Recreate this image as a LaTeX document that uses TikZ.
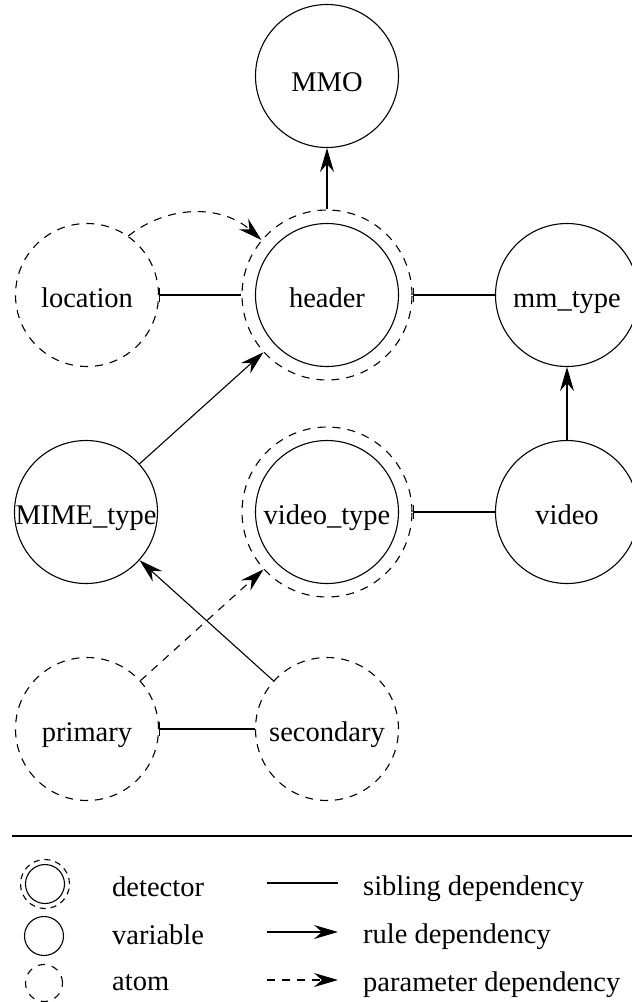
\documentclass[tikz,border=0pt]{standalone}
\usepackage{fontspec}
\setmainfont{Liberation Serif}
\usetikzlibrary{arrows.meta}

\tikzset{
  lw/.style={line width=1.1pt},
  dsh/.style={dash pattern=on 8pt off 7pt},
  varnode/.style={circle, draw, lw, inner sep=0pt, minimum size=143pt,
    text height=24pt, text depth=0pt, font=\fontsize{28.5}{34}\selectfont},
  atomnode/.style={varnode, dsh},
  detin/.style={varnode},
  detout/.style={circle, draw, lw, dsh, inner sep=0pt, minimum size=170pt},
  sibling/.style={lw, {Bar[width=14pt]}-},
  ruledep/.style={lw, -{Stealth[length=24pt, width=14pt, inset=8pt]}},
  paramdep/.style={ruledep, dsh},
  legtext/.style={anchor=base west, inner sep=0pt, font=\fontsize{28.5}{34}\selectfont},
}

\begin{document}
\begin{tikzpicture}[x=1pt, y=-1pt]
\useasboundingbox (0,0) rectangle (632,1002);

% ---- dependency graph ----
\node[varnode, text height=30pt] (MMO) at (327,76) {MMO};

\node[atomnode] (location) at (87,295) {location};
\node[detin] (header-in) at (327,295) {header};
\node[detout] (header) at (327,295) {};
\node[varnode] (mmtype) at (567,295) {mm\_type};

\node[varnode] (MIME) at (86,512) {MIME\_type};
\node[detin] (vtype-in) at (327,512) {video\_type};
\node[detout] (vtype) at (327,512) {};
\node[varnode] (video) at (567,512) {video};

\node[atomnode] (primary) at (87,729) {primary};
\node[atomnode] (secondary) at (327,729) {secondary};

% sibling dependencies
\draw[sibling] (location) -- (header);
\draw[sibling] (header) -- (mmtype);
\draw[sibling] (vtype) -- (video);
\draw[sibling] (primary) -- (secondary);

% rule dependencies
\draw[ruledep] (header) -- (MMO);
\draw[ruledep] (video) -- (mmtype);
\draw[ruledep] (MIME) -- (header);
\draw[ruledep] (secondary) -- (MIME);

% parameter dependencies
\draw[paramdep] (location.55) to[bend left=40] (header.140);
\draw[paramdep] (primary) -- (vtype);

% ---- legend ----
\coordinate (rl) at (12,836);
\coordinate (rr) at (632,836);
\draw[lw] (rl) -- (rr);

\node[circle, draw, lw, inner sep=0pt, minimum size=39pt] (ldet) at (45,884) {};
\node[circle, draw, lw, dash pattern=on 6pt off 5pt, inner sep=0pt, minimum size=49pt] (ldet-out) at (45,884) {};
\node[circle, draw, lw, inner sep=0pt, minimum size=39pt] (lvar) at (44,936) {};
\node[circle, draw, lw, dash pattern=on 7pt off 7pt, inner sep=0pt, minimum size=37pt] (latom) at (44,983) {};

\node[legtext] (tdet) at (112,896) {detector};
\node[legtext] (tvar) at (112,944) {variable};
\node[legtext] (tatom) at (112,990) {atom};

\coordinate (s1) at (267,883); \coordinate (s2) at (338,883);
\coordinate (r1) at (267,932); \coordinate (r2) at (338,932);
\coordinate (p1) at (267,980); \coordinate (p2) at (338,980);
\draw[lw] (s1) -- (s2);
\draw[ruledep] (r1) -- (r2);
\draw[paramdep] (p1) -- (p2);

\node[legtext] (tsib) at (363,895) {sibling dependency};
\node[legtext] (trule) at (363,943) {rule dependency};
\node[legtext] (tparam) at (363,991) {parameter dependency};
\end{tikzpicture}
\end{document}
